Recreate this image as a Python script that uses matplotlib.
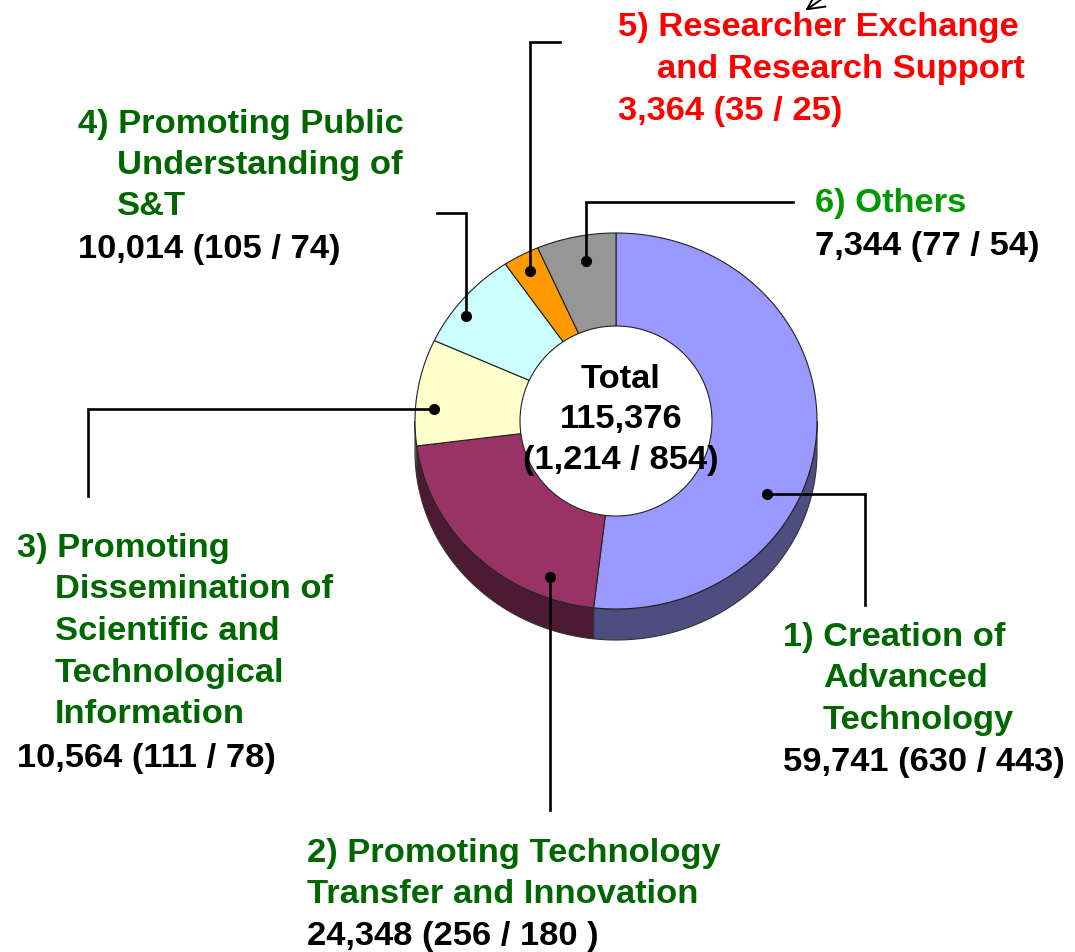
import numpy as np
import matplotlib.pyplot as plt

plt.rcParams['font.family'] = ['Liberation Sans', 'DejaVu Sans']

# données (ordre horaire depuis le haut)
values = [59741, 24348, 10564, 10014, 3364, 7344]
top_colors = ['#9999FF', '#993366', '#FFFFCC', '#CCFFFF', '#FF9900', '#969696']
side_colors = ['#4D4D80', '#4D1A33', '#80806A', '#6A8080', '#804D00', '#4B4B4B']
titles = [
    ['1) Creation of', 'Advanced', 'Technology'],
    ['2) Promoting Technology', 'Transfer and Innovation'],
    ['3) Promoting', 'Dissemination of', 'Scientific and', 'Technological', 'Information'],
    ['4) Promoting Public', 'Understanding of', 'S&T'],
    ['5) Researcher Exchange', 'and Research Support'],
    ['6) Others'],
]
counts = ['59,741 (630 / 443)', '24,348 (256 / 180 )', '10,564 (111 / 78)',
          '10,014 (105 / 74)', '3,364 (35 / 25)', '7,344 (77 / 54)']
total_lines = ['Total', '115,376', '(1,214 / 854)']

W, H = 1075, 952
fig = plt.figure(figsize=(W / 100, H / 100), dpi=100)
ax = fig.add_axes([0, 0, 1, 1])
ax.set_xlim(0, W)
ax.set_ylim(H, 0)
ax.axis('off')

FS = 24.8

# géométrie du beignet (pixels)
cx, cy = 616, 421
rx, ry = 201, 188
irx, iry = 96, 95
depth = 31


def pt(theta, a, b, dy=0):
    # theta en degrés, sens horaire depuis le haut
    t = np.radians(theta)
    return cx + a * np.sin(t), cy - b * np.cos(t) + dy


frac = np.array(values) / sum(values)
bounds = np.concatenate([[0], np.cumsum(frac) * 360])

# faces latérales (moitié avant)
for i in range(len(values)):
    t1, t2 = max(bounds[i], 90), min(bounds[i + 1], 270)
    if t2 <= t1:
        continue
    th = np.linspace(t1, t2, 80)
    xs, ys = pt(th, rx, ry)
    xb, yb = pt(th[::-1], rx, ry, depth)
    ax.fill(np.concatenate([xs, xb]), np.concatenate([ys, yb]),
            facecolor=side_colors[i], edgecolor='#333333', lw=0.8, zorder=1)

# faces supérieures
for i in range(len(values)):
    th = np.linspace(bounds[i], bounds[i + 1], 120)
    xo, yo = pt(th, rx, ry)
    xi, yi = pt(th[::-1], irx, iry)
    ax.fill(np.concatenate([xo, xi]), np.concatenate([yo, yi]),
            facecolor=top_colors[i], edgecolor='#222222', lw=0.8, zorder=2)

# texte central
for txt, yb in zip(total_lines, [388, 428, 469]):
    ax.text(621, yb, txt, ha='center', va='baseline', fontsize=FS,
            fontweight='bold', color='black', zorder=5)

# traits de rappel et points
leaders = [
    [(767, 494), (865, 494), (865, 605)],
    [(550, 577), (550, 810)],
    [(434, 409), (88, 409), (88, 496)],
    [(466, 316), (466, 213), (437, 213)],
    [(530, 271), (530, 42), (560, 42)],
    [(586, 261), (586, 202), (793, 202)],
]
for pts in leaders:
    xs = [p[0] for p in pts]
    ys = [p[1] for p in pts]
    ax.plot(xs, ys, color='black', lw=1.9, zorder=4, solid_joinstyle='miter')
    ax.plot(xs[0], ys[0], 'o', color='black', ms=7, zorder=4)

# étiquettes
title_colors = ['#006600', '#006600', '#006600', '#006600', '#FF0000', '#009900']
count_colors = ['black', 'black', 'black', 'black', '#FF0000', 'black']
label_pos = [
    (783, 823, [646, 687, 729], 771),
    (307, 307, [862, 903], 945),
    (17, 55, [557, 598, 640, 682, 723], 767),
    (78, 117, [133, 174, 215], 258),
    (618, 657, [36, 78], 120),
    (815, 815, [212], 255),
]
for i, (x0, x1, ybs, yc) in enumerate(label_pos):
    for j, line in enumerate(titles[i]):
        ax.text(x0 if j == 0 else x1, ybs[j], line, ha='left', va='baseline',
                fontsize=FS, fontweight='bold', color=title_colors[i])
    ax.text(x0, yc, counts[i], ha='left', va='baseline', fontsize=FS,
            fontweight='bold', color=count_colors[i])

# petite flèche en haut
ax.annotate('', xy=(803, 12), xytext=(832, -8), annotation_clip=False,
            arrowprops=dict(arrowstyle='->', lw=1.4, color='black',
                            mutation_scale=30))

fig.savefig('out.png', dpi=100)
